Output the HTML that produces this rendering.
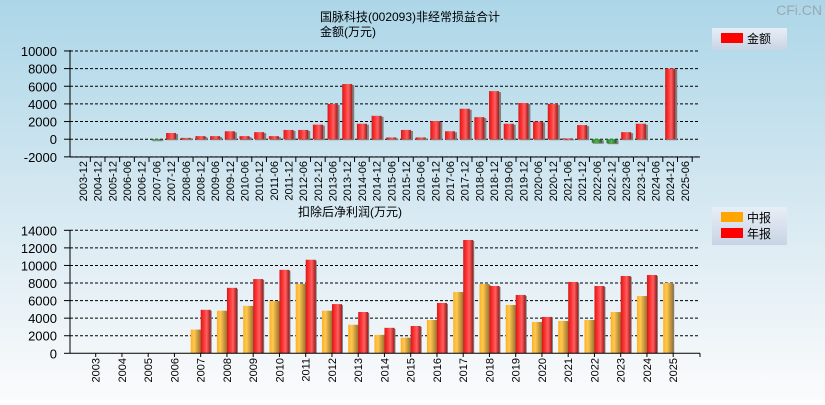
<!DOCTYPE html>
<html><head><meta charset="utf-8">
<style>
html,body{margin:0;padding:0;}
body{width:825px;height:400px;overflow:hidden;font-family:"Liberation Sans","Noto Sans CJK SC",sans-serif;}
svg text{font-family:"Liberation Sans","Noto Sans CJK SC",sans-serif;}
</style></head>
<body>
<svg id="chart" width="825" height="400" xmlns="http://www.w3.org/2000/svg">
<defs>
<linearGradient id="bg" x1="0" y1="0" x2="0" y2="1">
<stop offset="0" stop-color="#acd6e8"/><stop offset="0.55" stop-color="#d9eaf2"/><stop offset="1" stop-color="#fbfbfc"/>
</linearGradient>
<linearGradient id="gRed" x1="0" y1="0" x2="1" y2="0">
<stop offset="0" stop-color="#d81818"/><stop offset="0.35" stop-color="#ff3838"/><stop offset="0.6" stop-color="#ff6060"/><stop offset="1" stop-color="#a01818"/>
</linearGradient>
<linearGradient id="gOr" x1="0" y1="0" x2="1" y2="0">
<stop offset="0" stop-color="#ffb020"/><stop offset="0.35" stop-color="#ffc850"/><stop offset="1" stop-color="#9a7430"/>
</linearGradient>
<linearGradient id="gGr" x1="0" y1="0" x2="1" y2="0">
<stop offset="0" stop-color="#1f7a1f"/><stop offset="0.5" stop-color="#4cb84c"/><stop offset="1" stop-color="#1a5e1a"/>
</linearGradient>
<linearGradient id="leg" x1="0" y1="0" x2="0" y2="1">
<stop offset="0" stop-color="#e8eef6"/><stop offset="1" stop-color="#c8d4e4"/>
</linearGradient>
</defs>
<rect x="0" y="0" width="825" height="400" fill="url(#bg)"/>
<text x="822" y="15" text-anchor="end" font-size="14" fill="#9aa8b4">CFi.CN</text>
<text x="410" y="21" text-anchor="middle" font-size="12" fill="#000">国脉科技(002093)非经常损益合计</text>
<text x="348" y="36" text-anchor="middle" font-size="12" fill="#000">金额(万元)</text>
<text x="350" y="216" text-anchor="middle" font-size="12" fill="#000">扣除后净利润(万元)</text>
<g id="top"></g>
<g id="bottom"></g>
<g>
<rect x="712" y="28" width="75" height="22" fill="url(#leg)"/>
<rect x="721" y="33" width="22" height="10" fill="#ff0000"/>
<text x="747" y="43" font-size="12">金额</text>
</g>
<g>
<rect x="712" y="207" width="75" height="38" fill="url(#leg)"/>
<rect x="721" y="212" width="22" height="10" fill="#ffa500"/>
<text x="747" y="222" font-size="12">中报</text>
<rect x="721" y="228" width="22" height="10" fill="#ff0000"/>
<text x="747" y="238" font-size="12">年报</text>
</g>
</svg>
<script>
const topCats = ["2003-12","2004-12","2005-12","2006-06","2006-12","2007-06","2007-12","2008-06","2008-12","2009-06","2009-12","2010-06","2010-12","2011-06","2011-12","2012-06","2012-12","2013-06","2013-12","2014-06","2014-12","2015-06","2015-12","2016-06","2016-12","2017-06","2017-12","2018-06","2018-12","2019-06","2019-12","2020-06","2020-12","2021-06","2021-12","2022-06","2022-12","2023-06","2023-12","2024-06","2024-12","2025-06"];
const topValues = [0,0,0,0,0,-100,700,150,350,350,900,350,800,350,1050,1050,1650,4000,6250,1750,2650,200,1050,200,2050,900,3450,2500,5450,1750,4100,2000,4000,100,1600,-400,-450,800,1750,0,8000,0];
const topTicks = [10000,8000,6000,4000,2000,0,-2000];
const botCats = ["2003","2004","2005","2006","2007","2008","2009","2010","2011","2012","2013","2014","2015","2016","2017","2018","2019","2020","2021","2022","2023","2024","2025"];
const interimValues = [0,0,0,0,2700,4850,5400,5950,7900,4850,3250,2100,1780,3790,6980,7890,5500,3570,3680,3790,4700,6520,8000];
const annualValues = [0,0,0,0,4950,7450,8450,9500,10650,5600,4700,2900,3110,5730,12900,7660,6640,4140,8120,7660,8800,8910,0];
const botTicks = [14000,12000,10000,8000,6000,4000,2000,0];

const NS="http://www.w3.org/2000/svg";
function mk(parent,tag,attrs){const e=document.createElementNS(NS,tag);for(const k in attrs)e.setAttribute(k,attrs[k]);parent.appendChild(e);return e;}

// top axes
const tY=v=>139.2-(v/2000)*17.65;
const tX=i=>83+i*14.68;
const gT=document.getElementById('top');
topTicks.forEach(t=>{
  const l=mk(gT,'line',{x1:70,x2:700,y1:tY(t),y2:tY(t),stroke:'#000','stroke-dasharray':'3,2','stroke-width':1});
  
  
  const tx=mk(gT,'text',{x:57,y:tY(t)+5,'text-anchor':'end','font-size':13});
  tx.textContent=t;
  
  
  mk(gT,'line',{x1:64,x2:70,y1:tY(t),y2:tY(t),stroke:'#000'});
});
topValues.forEach((v,i)=>{
  const c=tX(i);
  if(v!==0){
    const y0=tY(0),y1=tY(v);
    const top=Math.min(y0,y1),h=Math.max(Math.abs(y1-y0),1);
    mk(gT,'rect',{x:c-4,y:top+1,width:11,height:h,fill:'#808080'});
    const r=mk(gT,'rect',{x:c-5,y:top,width:10,height:h,fill:v<0?'url(#gGr)':'url(#gRed)'});
    
    
  }
  const tx=mk(gT,'text',{transform:`translate(${c+4},${161}) rotate(-90)`,'text-anchor':'end','font-size':11});
  tx.textContent=topCats[i];
  
  
  mk(gT,'line',{x1:c+7.3,x2:c+7.3,y1:157,y2:162,stroke:'#000'});
});
mk(gT,'line',{x1:70,x2:70,y1:50,y2:157,stroke:'#000'});
mk(gT,'line',{x1:70,x2:700,y1:157,y2:157,stroke:'#000'});

// bottom axes
const bY=v=>353.3-(v/2000)*17.57;
const bX=i=>95.7+i*26.25;
const gB=document.getElementById('bottom');
botTicks.forEach(t=>{
  if(t!==0){
  const l=mk(gB,'line',{x1:70,x2:700,y1:bY(t),y2:bY(t),stroke:'#000','stroke-dasharray':'3,2','stroke-width':1});
  
  
  }
  const tx=mk(gB,'text',{x:57,y:bY(t)+5,'text-anchor':'end','font-size':13});
  tx.textContent=t;
  
  
  mk(gB,'line',{x1:64,x2:70,y1:bY(t),y2:bY(t),stroke:'#000'});
});
botCats.forEach((cat,i)=>{
  const c=bX(i);
  const v1=interimValues[i],v2=annualValues[i];
  if(v1>0){
    mk(gB,'rect',{x:c-9,y:bY(v1)+1,width:10,height:bY(0)-bY(v1)-1,fill:'#808080'});
    const r=mk(gB,'rect',{x:c-10,y:bY(v1),width:10,height:bY(0)-bY(v1),fill:'url(#gOr)'});
    
    
  }
  if(v2>0){
    mk(gB,'rect',{x:c+1,y:bY(v2)+1,width:10,height:bY(0)-bY(v2)-1,fill:'#808080'});
    const r=mk(gB,'rect',{x:c,y:bY(v2),width:10,height:bY(0)-bY(v2),fill:'url(#gRed)'});
    
    
  }
  const tx=mk(gB,'text',{transform:`translate(${c+4},${358}) rotate(-90)`,'text-anchor':'end','font-size':11});
  tx.textContent=cat;
  
  
  mk(gB,'line',{x1:c,x2:c,y1:353,y2:357,stroke:'#000'});
});
mk(gB,'line',{x1:70,x2:70,y1:230,y2:353.3,stroke:'#000'});
mk(gB,'line',{x1:70,x2:700,y1:353.3,y2:353.3,stroke:'#000'});
mk(gB,'line',{x1:700,x2:700,y1:353.3,y2:357,stroke:'#000'});
</script>
</body></html>
